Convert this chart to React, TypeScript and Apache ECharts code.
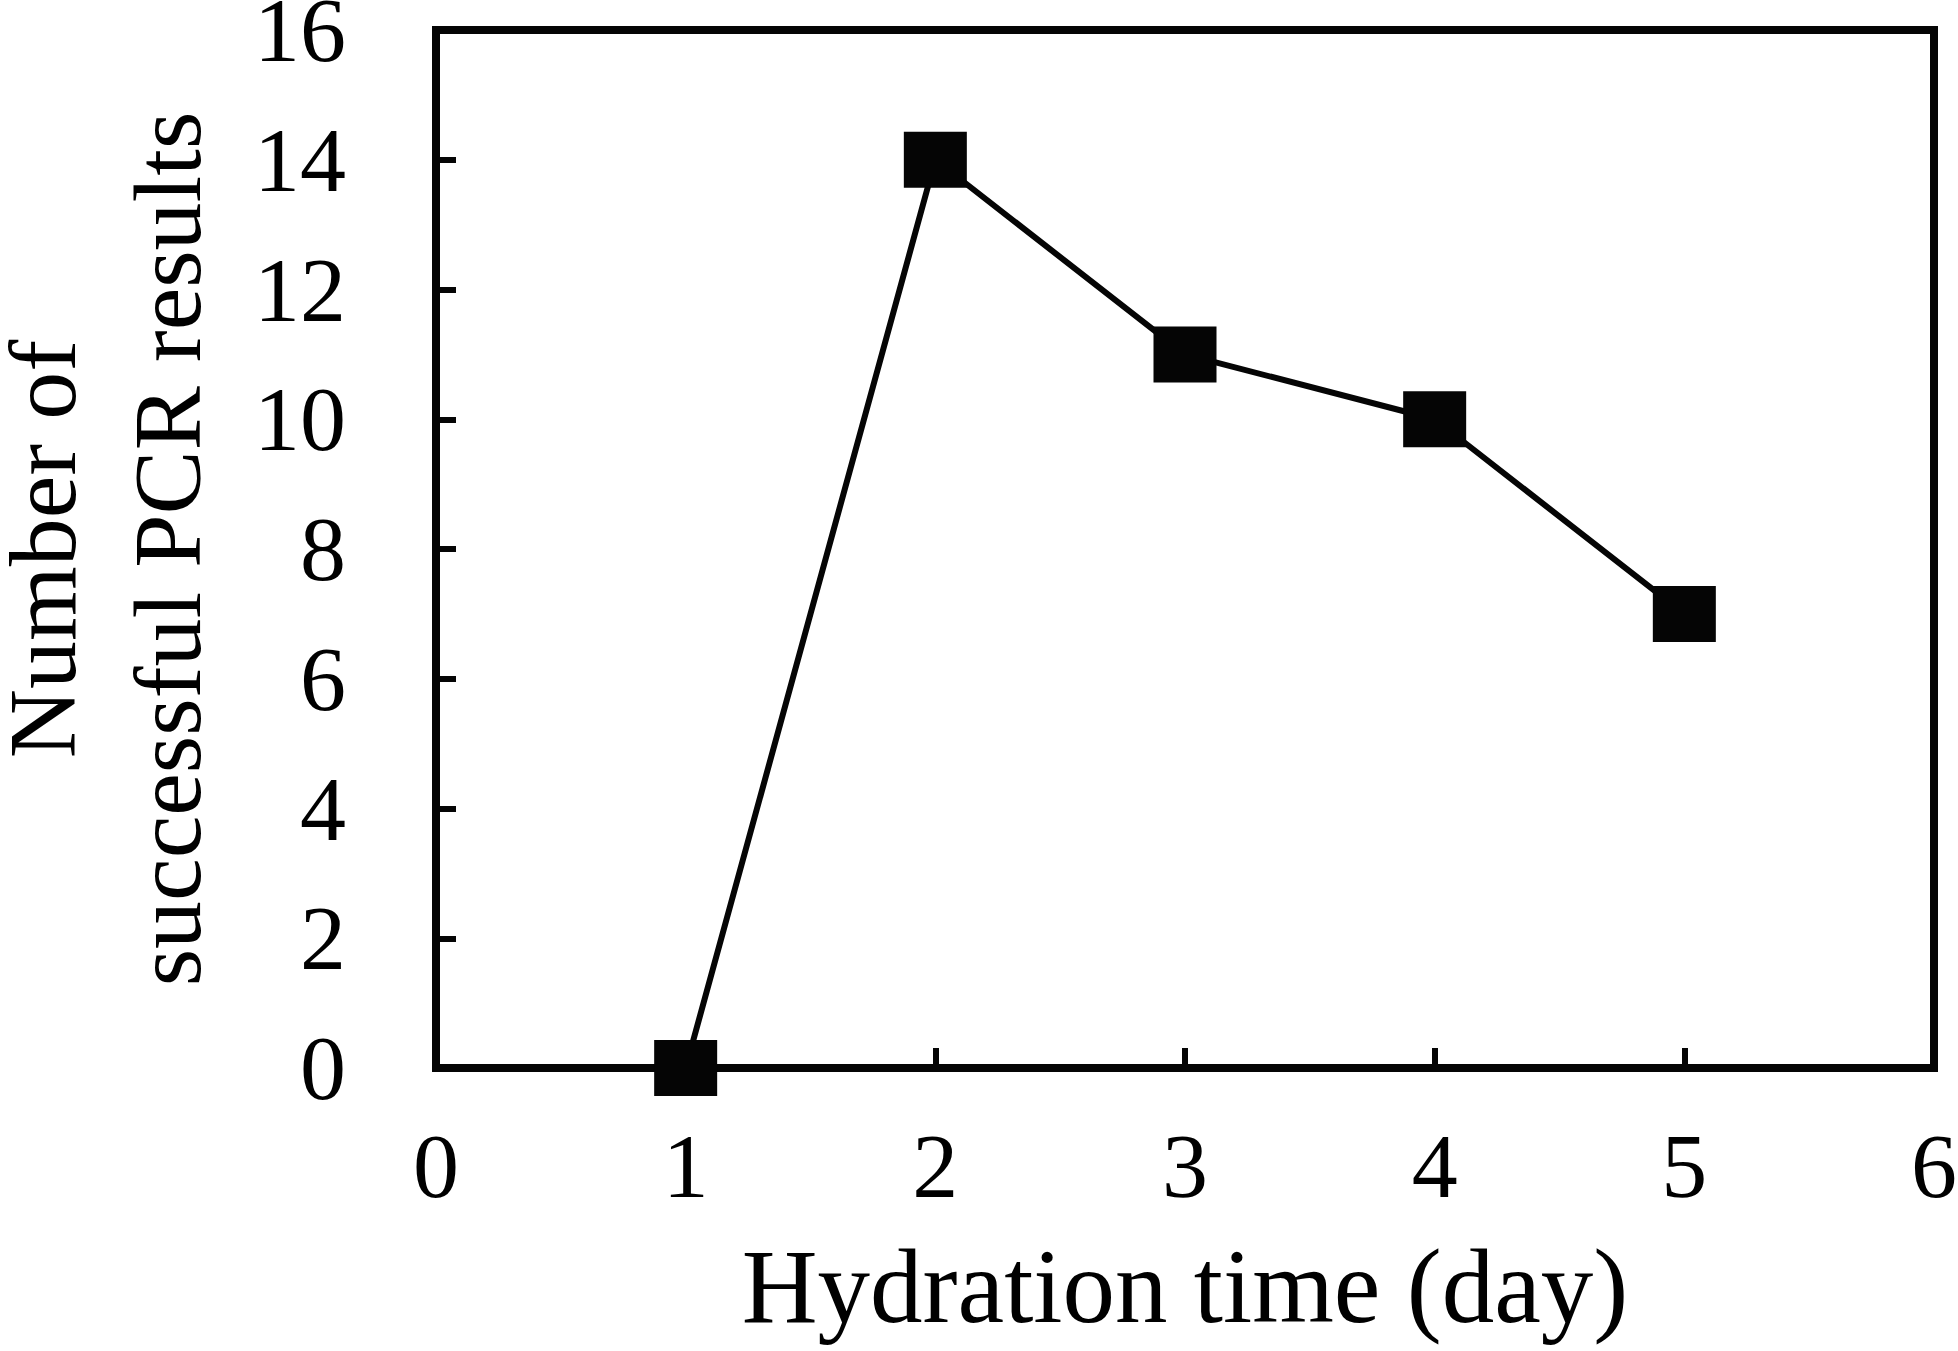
import React, { useEffect, useRef } from "react";
import * as echarts from "echarts";

const hydrationDays = [1, 2, 3, 4, 5];
const successfulPCR = [0, 14, 11, 10, 7];
const xTitle = "Hydration time (day)";
const yTitle = "Number of\nsuccessful PCR results";

const FONT = "'Liberation Serif', 'Times New Roman', serif";

export default function App() {
  const ref = useRef<HTMLDivElement>(null);
  useEffect(() => {
    if (!ref.current) return;
    const chart = echarts.init(ref.current, undefined, { renderer: "svg" });
    const points = hydrationDays.map((d, i) => [d, successfulPCR[i]]);
    chart.setOption({
      animation: false,
      backgroundColor: "#ffffff",
      grid: {
        left: 436,
        top: 30,
        right: 24,
        bottom: 283,
        outerBoundsMode: "none",
        containLabel: false,
        show: true,
        borderColor: "#050505",
        borderWidth: 8,
      },
      xAxis: {
        type: "value",
        min: 0,
        max: 6,
        interval: 1,
        name: xTitle,
        nameLocation: "middle",
        nameGap: 166,
        nameTextStyle: { fontFamily: FONT, fontSize: 105, color: "#000" },
        axisLine: { show: true, onZero: false, lineStyle: { color: "#050505", width: 8 } },
        axisTick: { show: true, inside: true, length: 20, lineStyle: { color: "#050505", width: 6 } },
        axisLabel: { fontFamily: FONT, fontSize: 92, color: "#000", margin: 52 },
        splitLine: { show: false },
      },
      yAxis: {
        type: "value",
        min: 0,
        max: 16,
        interval: 2,
        name: yTitle,
        nameLocation: "middle",
        nameRotate: 90,
        nameGap: 206,
        nameTextStyle: { fontFamily: FONT, fontSize: 96, lineHeight: 125, color: "#000" },
        axisLine: { show: true, lineStyle: { color: "#050505", width: 8 } },
        axisTick: { show: true, inside: true, length: 20, lineStyle: { color: "#050505", width: 6 } },
        axisLabel: { fontFamily: FONT, fontSize: 92, color: "#000", margin: 90 },
        splitLine: { show: false },
      },
      series: [
        {
          type: "line",
          data: points,
          symbol: "rect",
          symbolSize: [63, 56],
          itemStyle: { color: "#050505" },
          lineStyle: { color: "#050505", width: 6 },
          z: 5,
        },
      ],
    });
    return () => chart.dispose();
  }, []);
  return (
    <div
      ref={ref}
      style={{ position: "absolute", left: 0, top: 0, width: 1958, height: 1351, background: "#fff" }}
    />
  );
}
